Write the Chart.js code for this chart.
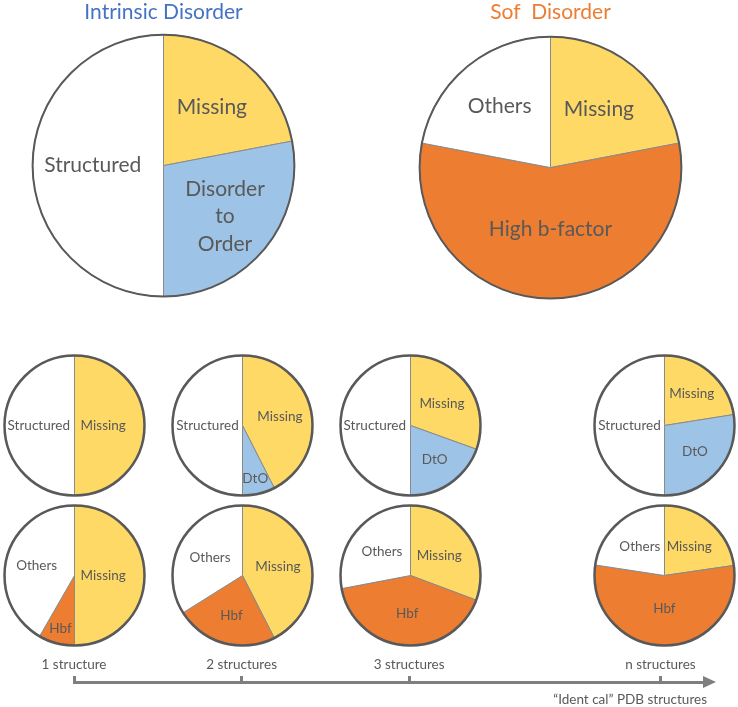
<!DOCTYPE html>
<html>
<head>
<meta charset="utf-8">
<script src="https://cdn.jsdelivr.net/npm/chart.js@4.4.1/dist/chart.umd.min.js"></script>
<style>
  html, body { margin: 0; padding: 0; background: #fff; }
  #page { position: relative; width: 738px; height: 707px; overflow: hidden; }
  #page canvas { position: absolute; }
</style>
</head>
<body>
<div id="page"></div>
<script>
// Big pies
const intrinsicLabels = ['Missing', ['Disorder', 'to', 'Order'], 'Structured'];
const intrinsicValues = [22, 28, 50];
const softLabels = ['Missing', 'High b-factor', 'Others'];
const softValues = [22, 56, 22];

// Small pies, one value per number of structures (1, 2, 3, n)
const intrinsicShortLabels = ['Missing', 'DtO', 'Structured'];
const intrinsicMissing = [50, 42.5, 30.5, 22.5];
const intrinsicDtO = [0, 7.5, 19.5, 27.5];
const intrinsicStructured = [50, 50, 50, 50];

const softShortLabels = ['Missing', 'Hbf', 'Others'];
const softMissing = [50, 42.5, 30.7, 22.7];
const softHbf = [8.3, 23.6, 41.3, 54.7];
const softOthers = [41.7, 33.9, 28, 22.6];

// Bottom axis
const structureTicks = [1, 2, 3, 4.5];
const structureTickLabels = ['1 structure', '2 structures', '3 structures', 'n structures'];
const axisTitle = '\u201CIdent cal\u201D PDB structures';

const YELLOW = '#FFD966';
const BLUE = '#9DC3E6';
const ORANGE = '#ED7D31';
const WHITE = '#FFFFFF';
const TEXT = '#595959';

Chart.defaults.font.family = 'Lato';
Chart.defaults.color = TEXT;

const page = document.getElementById('page');

// thick outline + labels inside the slices
const pieDecor = {
    id: 'pieDecor',
    afterDatasetsDraw(chart, args, opts) {
        const ctx = chart.ctx;
        const arcs = chart.getDatasetMeta(0).data;
        if (!arcs.length) return;
        const c = arcs[0].getProps(['x', 'y', 'outerRadius'], true);
        ctx.save();
        ctx.beginPath();
        ctx.arc(c.x, c.y, c.outerRadius, 0, Math.PI * 2);
        ctx.lineWidth = opts.ringWidth;
        ctx.strokeStyle = '#595959';
        ctx.stroke();

        ctx.fillStyle = TEXT;
        ctx.font = opts.fontSize + 'px Lato';
        ctx.textAlign = 'center';
        ctx.textBaseline = 'middle';
        const lh = opts.fontSize * 1.3;
        arcs.forEach((arc, i) => {
            const p = arc.getProps(['x', 'y', 'startAngle', 'endAngle', 'outerRadius'], true);
            if (p.endAngle - p.startAngle < 1e-6) return;
            const mid = (p.startAngle + p.endAngle) / 2;
            const rr = p.outerRadius * opts.spots[i];
            const lines = [].concat(chart.data.labels[i]);
            lines.forEach((t, j) => {
                ctx.fillText(t, p.x + Math.cos(mid) * rr,
                    p.y + Math.sin(mid) * rr + (j - (lines.length - 1) / 2) * lh);
            });
        });
        ctx.restore();
    }
};

function makePie(cfg) {
    const canvas = document.createElement('canvas');
    const side = 2 * cfg.r + 1;
    let top, height, padTop;
    if (cfg.title) {
        padTop = 0;
        top = 0;
        height = cfg.cy + cfg.r + 3;
    } else {
        padTop = 2;
        top = Math.round(cfg.cy - cfg.r - 2.5);
        height = side + 4;
    }
    canvas.width = side + 4;
    canvas.height = height;
    canvas.style.left = Math.round(cfg.cx - cfg.r - 2.5) + 'px';
    canvas.style.top = top + 'px';
    page.appendChild(canvas);

    new Chart(canvas, {
        type: 'pie',
        data: {
            labels: cfg.labels,
            datasets: [{
                data: cfg.values,
                backgroundColor: cfg.colors,
                borderColor: '#8a8a8a',
                borderWidth: 1
            }]
        },
        options: {
            responsive: false,
            animation: false,
            events: [],
            layout: { padding: { top: padTop, left: 2, right: 2, bottom: 2 } },
            plugins: {
                legend: { display: false },
                tooltip: { enabled: false },
                title: {
                    display: !!cfg.title,
                    text: cfg.title || '',
                    color: cfg.titleColor,
                    font: { size: 21, weight: 'normal', lineHeight: 1.2 },
                    padding: { top: 0, bottom: cfg.cy - cfg.r - 25 }
                },
                pieDecor: { fontSize: cfg.fontSize, spots: cfg.spots, ringWidth: cfg.ringWidth }
            }
        },
        plugins: [pieDecor]
    });
}

// big pies
makePie({
    cx: 163, cy: 165, r: 131, title: 'Intrinsic Disorder', titleColor: '#4472C4',
    labels: intrinsicLabels, values: intrinsicValues, colors: [YELLOW, BLUE, WHITE],
    fontSize: 21, spots: [0.58, 0.61, 0.54], ringWidth: 2
});
makePie({
    cx: 550, cy: 167, r: 131, title: 'Sof  Disorder', titleColor: ORANGE,
    labels: softLabels, values: softValues, colors: [YELLOW, ORANGE, WHITE],
    fontSize: 21, spots: [0.58, 0.47, 0.61], ringWidth: 2
});

// small pies
const smallX = [74, 242, 410, 664];
const intrinsicSpots = [[0.41, 0.5, 0.51], [0.55, 0.78, 0.5], [0.55, 0.6, 0.51], [0.6, 0.57, 0.5]];
const softSpots = [[0.41, 0.78, 0.56], [0.52, 0.59, 0.53], [0.5, 0.54, 0.53], [0.54, 0.47, 0.54]];

smallX.forEach((x, k) => {
    makePie({
        cx: x, cy: 425, r: 70,
        labels: intrinsicShortLabels,
        values: [intrinsicMissing[k], intrinsicDtO[k], intrinsicStructured[k]],
        colors: [YELLOW, BLUE, WHITE],
        fontSize: 13.5, spots: intrinsicSpots[k], ringWidth: 2.5
    });
    makePie({
        cx: x, cy: 575, r: 70,
        labels: softShortLabels,
        values: [softMissing[k], softHbf[k], softOthers[k]],
        colors: [YELLOW, ORANGE, WHITE],
        fontSize: 13.5, spots: softSpots[k], ringWidth: 2.5
    });
});

// bottom axis with arrow
const axisDecor = {
    id: 'axisDecor',
    afterDraw(chart) {
        const ctx = chart.ctx;
        const sx = chart.scales.x;
        const y = sx.bottom;
        ctx.save();
        ctx.fillStyle = '#7F7F7F';
        ctx.beginPath();
        ctx.moveTo(sx.right - 1, y - 6);
        ctx.lineTo(sx.right + 12, y);
        ctx.lineTo(sx.right - 1, y + 6);
        ctx.closePath();
        ctx.fill();
        ctx.fillStyle = TEXT;
        ctx.font = '13.5px Lato';
        ctx.textAlign = 'right';
        ctx.textBaseline = 'middle';
        ctx.fillText(axisTitle, 707, 700 - 640);
        ctx.restore();
    }
};

const axisCanvas = document.createElement('canvas');
axisCanvas.width = 738;
axisCanvas.height = 67;
axisCanvas.style.left = '0px';
axisCanvas.style.top = '640px';
page.appendChild(axisCanvas);

new Chart(axisCanvas, {
    type: 'line',
    data: { datasets: [{ data: [] }] },
    options: {
        responsive: false,
        animation: false,
        events: [],
        layout: { padding: { top: 17, left: 74, right: 34, bottom: 0 } },
        plugins: { legend: { display: false }, tooltip: { enabled: false } },
        scales: {
            x: {
                type: 'linear',
                position: 'top',
                min: 1,
                max: 4.76,
                afterBuildTicks: scale => { scale.ticks = structureTicks.map(v => ({ value: v })); },
                ticks: {
                    callback: (v, i) => structureTickLabels[i],
                    color: TEXT,
                    font: { size: 13.5 },
                    padding: 3,
                    maxRotation: 0,
                    autoSkip: false
                },
                grid: { drawOnChartArea: false, drawTicks: true, tickLength: 6, color: '#7F7F7F', lineWidth: 3 },
                border: { display: true, color: '#7F7F7F', width: 3 }
            },
            y: { display: false }
        }
    },
    plugins: [axisDecor]
});
</script>
</body>
</html>
